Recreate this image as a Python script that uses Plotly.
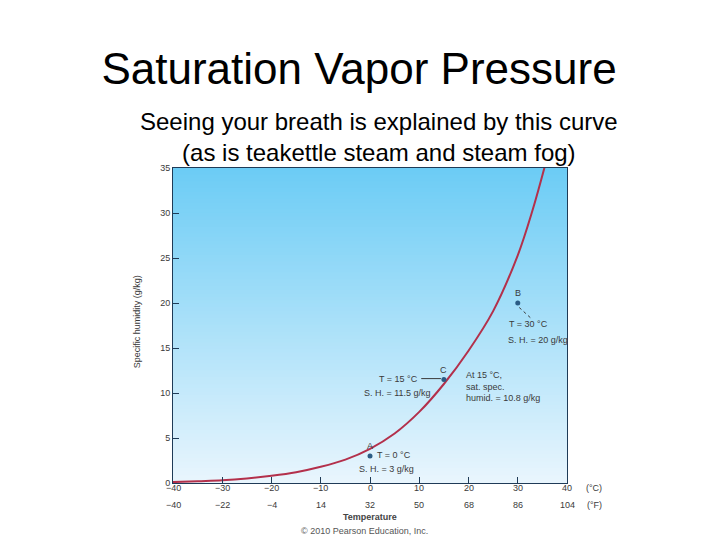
import plotly.graph_objects as go

# saturation specific humidity curve
temp_c = [-40, -35, -30, -25, -20, -15, -10, -5, 0, 5, 10, 15, 20, 25, 30, 33, 35.5]
sat_sh = [0.1, 0.2, 0.3, 0.5, 0.8, 1.2, 1.8, 2.6, 3.8, 5.5, 7.9, 11.0, 14.7, 19.1, 25.3, 30.3, 35.2]

# labelled points
pt_names = ["A", "B", "C"]
pt_temp = [0, 30, 15]
pt_sh = [3, 20, 11.5]

# axis ticks
c_ticks = [-40, -30, -20, -10, 0, 10, 20, 30, 40]
c_labels = ["\u221240", "\u221230", "\u221220", "\u221210", "0", "10", "20", "30", "40"]
f_labels = ["\u221240", "\u221222", "\u22124", "14", "32", "50", "68", "86", "104"]
y_ticks = [0, 5, 10, 15, 20, 25, 30, 35]

FONT = "Liberation Sans, Arial, sans-serif"
TXT = "#3a3a3a"
NAVY = "#1f3b57"
small = dict(family=FONT, size=9, color=TXT)


def note(fig, x, y, text, xref="x", yref="y", xanchor="center", yanchor="middle", **kw):
    fig.add_annotation(x=x, y=y, xref=xref, yref=yref, text=text, showarrow=False,
                       xanchor=xanchor, yanchor=yanchor, font=kw.pop("font", small), **kw)


fig = go.Figure()

# sky gradient behind the plot
top, bottom = (108, 204, 245), (232, 245, 253)
n = 90
for i in range(n):
    t = i / (n - 1)
    col = tuple(round(top[k] + (bottom[k] - top[k]) * t) for k in range(3))
    fig.add_shape(type="rect", xref="x domain", yref="y domain",
                  x0=0, x1=1, y0=1 - (i + 1) / n, y1=1 - i / n + 0.002,
                  fillcolor="rgb(%d,%d,%d)" % col, line_width=0, layer="below")

fig.add_scatter(x=temp_c, y=sat_sh, mode="lines", line=dict(color="#b3304b", width=2, shape="spline"),
                hoverinfo="skip", showlegend=False)
fig.add_scatter(x=pt_temp, y=pt_sh, mode="markers", marker=dict(color="#2b5c85", size=5),
                hoverinfo="skip", showlegend=False)

# point letters
for name, tx, sh in zip(pt_names, pt_temp, pt_sh):
    fig.add_annotation(x=tx, y=sh, text=name, showarrow=False, yshift=10, font=small)

# A
note(fig, 1.0, 3.1, "T = 0 \u00b0C", xanchor="left")
note(fig, -2.6, 1.6, "S. H. = 3 g/kg", xanchor="left")
# B
fig.add_shape(type="line", x0=30.3, y0=19.5, x1=32.7, y1=18.3, line=dict(color=TXT, width=1, dash="dot"))
note(fig, 27.9, 17.7, "T = 30 \u00b0C", xanchor="left")
note(fig, 27.7, 15.9, "S. H. = 20 g/kg", xanchor="left")
# C
fig.add_shape(type="line", x0=10.4, y0=11.6, x1=14.4, y1=11.6, line=dict(color=TXT, width=1))
note(fig, 10.2, 11.6, "T = 15 \u00b0C", xanchor="right")
note(fig, -1.6, 10.0, "S. H. = 11.5 g/kg", xanchor="left")
note(fig, 19.1, 10.7, "At 15 \u00b0C,<br>sat. spec.<br>humid. = 10.8 g/kg", xanchor="left", align="left")

# Celsius and Fahrenheit rows and units
for c, lab, f in zip(c_ticks, c_labels, f_labels):
    note(fig, c, -0.016, lab, yref="paper")
    note(fig, c, -0.070, f, yref="paper")
note(fig, 1.069, -0.016, "(\u00b0C)", xref="paper", yref="paper")
note(fig, 1.069, -0.070, "(\u00b0F)", xref="paper", yref="paper")
note(fig, 0.5, -0.108, "<b>Temperature</b>", xref="paper", yref="paper",
     font=dict(family=FONT, size=9, color="#444"))
note(fig, 0.487, -0.152, "\u00a9 2010 Pearson Education, Inc.", xref="paper", yref="paper",
     font=dict(family=FONT, size=9, color="#555"))
note(fig, -0.091, 0.511, "Specific humidity (g/kg)", xref="paper", yref="paper", textangle=-90)

# heading
note(fig, 0.523, 1.098, "Seeing your breath is explained by this curve<br>(as is teakettle steam and steam fog)",
     xref="paper", yref="paper", font=dict(family=FONT, size=24, color="#000"))

fig.update_layout(
    width=712, height=532,
    title=dict(text="Saturation Vapor Pressure", x=0.493, y=0.887, xanchor="center", yanchor="middle",
               xref="container", yref="container", font=dict(family=FONT, size=44, color="#000")),
    margin=dict(l=165, r=153, t=160, b=57),
    paper_bgcolor="white", plot_bgcolor="#a8def8",
    xaxis=dict(range=[-40, 40], tickvals=c_ticks, showticklabels=False, ticks="inside", ticklen=6,
               tickcolor=NAVY, showline=True, linecolor=NAVY, linewidth=1, mirror=True,
               showgrid=False, zeroline=False),
    yaxis=dict(range=[0, 35], tickvals=y_ticks, ticks="inside", ticklen=6, tickcolor=NAVY,
               showline=True, linecolor=NAVY, linewidth=1, mirror=True,
               showgrid=False, zeroline=False, tickfont=small),
    showlegend=False,
)

fig.write_html("out.html")
